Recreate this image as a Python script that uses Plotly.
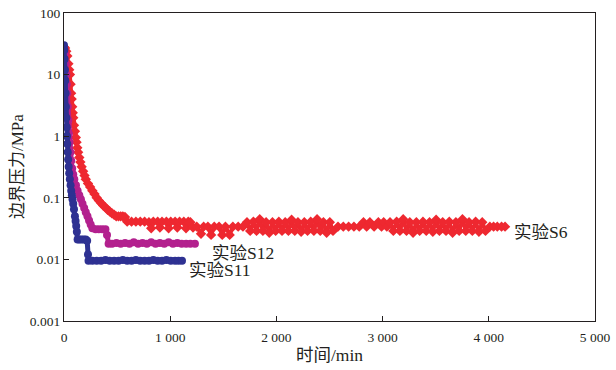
import math
import plotly.graph_objects as go

# ---------------- data ----------------
t_s6 = [0, 10, 21, 31, 41, 49, 56, 62, 67, 72, 77, 82, 87, 94, 103, 111, 118, 125, 133, 144,
        154, 166, 180, 193, 205, 226, 246, 267, 287, 308, 328, 349, 369, 390, 410, 431, 451,
        472, 492, 513, 534, 554, 574,
        595, 636, 677, 718, 759, 800, 821, 841, 882, 903, 923, 964, 985, 1005, 1046, 1067,
        1088, 1128, 1149, 1170, 1190,
        1215, 1250, 1290, 1315, 1355, 1385, 1415, 1460, 1490, 1520, 1560, 1590, 1640, 1685,
        1723, 1753, 1783, 1813, 1843, 1873, 1903, 1933, 1963, 1993, 2023, 2053, 2083, 2113,
        2143, 2173, 2203, 2233, 2263, 2293, 2323, 2353, 2383, 2413, 2443, 2473, 2503, 2533,
        2580, 2630, 2680, 2730, 2780, 2820, 2850, 2880, 2920, 2960, 2990, 3010, 3040,
        3070, 3101, 3132, 3163, 3194, 3225, 3256, 3287, 3318, 3349, 3380, 3411, 3442, 3473,
        3504, 3535, 3566, 3597, 3628, 3659, 3690, 3721, 3752, 3783, 3814, 3845, 3876, 3907,
        3938, 3969, 4010, 4045, 4080, 4120, 4153]
p_s6 = [28, 27, 24, 20, 15, 12, 10, 7, 5, 4, 3, 2.4, 2, 1.5, 1.2, 0.95, 0.8, 0.65, 0.55, 0.45,
        0.38, 0.32, 0.27, 0.23, 0.2, 0.17, 0.15, 0.13, 0.115, 0.1, 0.09, 0.082, 0.075, 0.07,
        0.064, 0.06, 0.056, 0.053, 0.05, 0.05, 0.05, 0.05, 0.049,
        0.041, 0.041, 0.041, 0.041, 0.041, 0.04, 0.032, 0.041, 0.041, 0.033, 0.041, 0.041,
        0.032, 0.041, 0.041, 0.033, 0.041, 0.041, 0.032, 0.041, 0.04,
        0.033, 0.034, 0.026, 0.034, 0.034, 0.025, 0.034, 0.034, 0.025, 0.034, 0.025, 0.034,
        0.034, 0.034,
        0.04, 0.029, 0.041, 0.029, 0.045, 0.029, 0.04, 0.027, 0.04, 0.029, 0.041, 0.029,
        0.04, 0.029, 0.044, 0.029, 0.04, 0.028, 0.04, 0.029, 0.041, 0.029, 0.045, 0.029,
        0.04, 0.027, 0.04, 0.029,
        0.034, 0.034, 0.034, 0.034, 0.034, 0.04, 0.034, 0.04, 0.034, 0.04, 0.034, 0.04, 0.034,
        0.04, 0.029, 0.041, 0.029, 0.045, 0.029, 0.04, 0.027, 0.04, 0.029, 0.041, 0.029,
        0.04, 0.028, 0.044, 0.029, 0.04, 0.029, 0.041, 0.027, 0.04, 0.029, 0.045, 0.029,
        0.04, 0.029, 0.041, 0.028, 0.04, 0.029, 0.034, 0.034, 0.034, 0.034, 0.034]

t_s12 = [0, 8, 15, 21, 26, 31, 36, 41, 46, 51, 60, 68, 77, 87, 97, 113, 128, 144, 159, 174,
         190, 205, 221, 236, 251, 267, 298, 328, 359, 390, 405, 420, 452, 493, 534, 575, 616,
         657, 698, 739, 780, 821, 862, 903, 944, 985, 1026, 1067, 1108, 1150, 1190, 1233]
p_s12 = [26, 22, 15, 10, 7, 5, 3, 1.8, 1.1, 0.8, 0.55, 0.4, 0.3, 0.24, 0.2, 0.16, 0.13, 0.11,
         0.095, 0.08, 0.068, 0.058, 0.05, 0.043, 0.037, 0.032, 0.031, 0.031, 0.031, 0.031,
         0.025, 0.018, 0.018, 0.0185, 0.018, 0.0185, 0.018, 0.019, 0.018, 0.0185, 0.018,
         0.019, 0.018, 0.0185, 0.018, 0.019, 0.018, 0.0185, 0.018, 0.018, 0.018, 0.018]

t_s11 = [0, 3, 6, 9, 12, 15, 18, 22, 25, 28, 31, 35, 39, 44, 49, 55, 62, 68, 74, 80, 87, 94,
         103, 109, 115, 121, 128, 144, 164, 185, 205, 218, 226, 231, 267, 308, 349, 390, 431,
         472, 513, 554, 595, 636, 677, 718, 759, 800, 841, 882, 923, 964, 1005, 1046, 1078, 1111]
p_s11 = [30, 25, 18, 12, 8, 5, 3, 2, 1.4, 1, 0.75, 0.55, 0.42, 0.32, 0.25, 0.2, 0.16, 0.13,
         0.11, 0.095, 0.08, 0.065, 0.05, 0.042, 0.035, 0.028, 0.021, 0.021, 0.021, 0.021,
         0.021, 0.02, 0.012, 0.0095, 0.0095, 0.0095, 0.0095, 0.0098, 0.0095, 0.0095, 0.0095,
         0.0098, 0.0095, 0.0095, 0.0098, 0.0095, 0.0095, 0.0095, 0.0098, 0.0095, 0.0095,
         0.0098, 0.0095, 0.0095, 0.0095, 0.0095]

series_names = ["实验S6", "实验S12", "实验S11"]
x_ticks = [0, 1000, 2000, 3000, 4000, 5000]
x_tick_text = ["0", "1 000", "2 000", "3 000", "4 000", "5 000"]
y_ticks = [0.001, 0.01, 0.1, 1, 10, 100]
y_tick_text = ["0.001", "0.01", "0.1", "1", "10", "100"]

# ---------------- figure ----------------
FONT = "'Liberation Serif', 'Times New Roman', 'Noto Sans CJK SC', serif"
RED, MAG, NAVY = "#EE2830", "#B3208E", "#2E3192"
TXT = "#231F20"

fig = go.Figure()
fig.add_trace(go.Scatter(x=t_s6, y=p_s6, mode="lines+markers", name=series_names[0],
                         line=dict(color=RED, width=4),
                         marker=dict(symbol="diamond", size=8, color=RED)))
fig.add_trace(go.Scatter(x=t_s12, y=p_s12, mode="lines+markers", name=series_names[1],
                         line=dict(color=MAG, width=5),
                         marker=dict(symbol="circle", size=8, color=MAG)))
fig.add_trace(go.Scatter(x=t_s11, y=p_s11, mode="lines+markers", name=series_names[2],
                         line=dict(color=NAVY, width=5),
                         marker=dict(symbol="circle", size=8, color=NAVY)))

label_specs = [(t_s6, p_s6, 7, -5), (t_s12, p_s12, 15, -9), (t_s11, p_s11, 5, -9)]
for name, (tx, py, dx, dy) in zip(series_names, label_specs):
    fig.add_annotation(x=tx[-1], y=math.log10(py[-1]), yref="y", xref="x", text=name,
                       showarrow=False, xanchor="left", yanchor="middle",
                       xshift=dx, yshift=dy,
                       font=dict(family=FONT, size=17.5, color=TXT))

fig.add_annotation(x=0.5, y=0, xref="paper", yref="paper", yshift=-34, text="时间/min",
                   showarrow=False, xanchor="center", yanchor="middle",
                   font=dict(family=FONT, size=17.5, color=TXT))
fig.add_annotation(x=0, y=0.5, xref="paper", yref="paper", xshift=-47, text="边界压力/MPa",
                   showarrow=False, textangle=-90, xanchor="center", yanchor="middle",
                   font=dict(family=FONT, size=17, color=TXT))

axis_common = dict(showline=True, linecolor=TXT, linewidth=1.2, mirror=True,
                   ticks="inside", ticklen=5, tickcolor=TXT, tickwidth=1,
                   showgrid=False, zeroline=False, automargin=False,
                   ticklabeloverflow="allow",
                   tickfont=dict(family=FONT, size=13.5, color=TXT))
fig.update_xaxes(range=[0, 5000], tickvals=x_ticks, ticktext=x_tick_text,
                 ticklabelstandoff=4, **axis_common)
fig.update_yaxes(type="log", range=[-3, 2], tickvals=y_ticks, ticktext=y_tick_text,
                 **axis_common)

fig.update_layout(width=616, height=370, margin=dict(l=64, r=21, t=13, b=49),
                  paper_bgcolor="white", plot_bgcolor="white", showlegend=False,
                  font=dict(family=FONT, color=TXT))

# remove the browser's default 8 px page margin so the figure sits at the page origin
fig.write_html("out.html", config={"displayModeBar": False},
               post_script="document.body.style.margin='0px';document.body.style.overflow='hidden';")
